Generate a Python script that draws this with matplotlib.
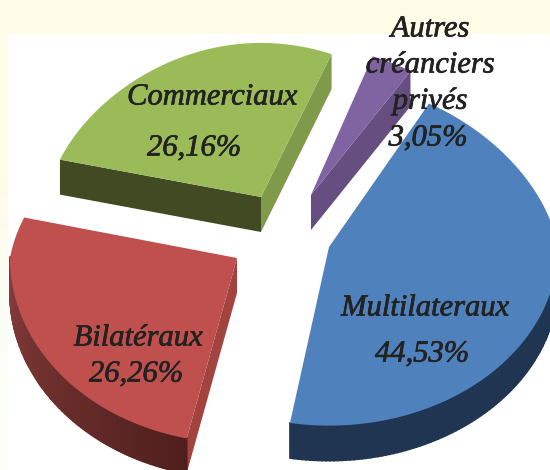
"""3D exploded pie of debt by creditor type, drawn in pixel-like coordinates."""

from __future__ import annotations

import matplotlib

matplotlib.use("Agg")

import matplotlib.patheffects as pe
import matplotlib.pyplot as plt
import numpy as np
from matplotlib.colors import to_rgb
from matplotlib.patches import Rectangle

# clockwise from the start angle
labels = ["Multilateraux", "Bilatéraux", "Commerciaux", "Autres\ncréanciers\nprivés"]
shares = [44.53, 26.26, 26.16, 3.05]
share_text = ["44,53%", "26,26%", "26,16%", "3,05%"]

TOP_COLORS = ["#4f81bd", "#c0504d", "#9bbb59", "#8064a2"]
ARC_COLORS = [("#1f3552", "#1f3552"), ("#8f4240", "#4f1f1d")]
# (which end of the slice, colour) for each flat wall that faces the viewer
WALLS = [
    [],
    [(0, "#a34340")],
    [(0, "#414a22"), (-1, "#7f9a48")],
    [(-1, "#664f80")],
]

START_ANGLE = 60.5
# the perspective of the source picture bends the slice boundaries a little
ANGLE_NUDGE = [(0, 0), (-3, 0), (0.3, -3.5), (-1.5, -3.5)]
CENTER = (282, 234)
EXPLODE_XY = [(47, 13), (-45, 24), (-21, -37), (29, -39)]
RADII = [229, 227, 214, 205]
SQUASH_BACK = 0.72
SQUASH_FRONT = [0.78, 0.815, 0.80, 0.80]
BACK_NARROWING = 0.13
DEPTH = 35
DRAW_ORDER = [3, 2, 0, 1]

# centre of the name lines, then the share
LABEL_XY = [(425, 308), (138, 338), (212, 97), (430, 65)]
SHARE_XY = [(422, 354), (136, 374), (194, 148), (428, 138)]
LINE_GAP = 36


def outline(apex, radius, front, start, stop, n=160):
    angles = np.radians(np.linspace(start, stop, n))
    sines = np.sin(angles)
    xs = radius * np.cos(angles) * (1 - BACK_NARROWING * np.clip(sines, 0, None))
    ys = radius * sines * np.where(sines > 0, SQUASH_BACK, front)
    return apex[0] + xs, apex[1] - ys


def draw_slice(ax, i, start, stop):
    apex = (CENTER[0] + EXPLODE_XY[i][0], CENTER[1] + EXPLODE_XY[i][1])
    xs, ys = outline(apex, RADII[i], SQUASH_FRONT[i], start, stop)

    for end, color in WALLS[i]:
        ax.fill(
            [apex[0], xs[end], xs[end], apex[0]],
            [apex[1], ys[end], ys[end] + DEPTH, apex[1] + DEPTH],
            color=color,
            lw=0,
        )

    # outer wall, only on the front half
    if i < len(ARC_COLORS):
        first = np.array(to_rgb(ARC_COLORS[i][1]))
        last = np.array(to_rgb(ARC_COLORS[i][0]))
        for k in range(len(xs) - 1):
            if ys[k] < apex[1] and ys[k + 1] < apex[1]:
                continue
            ax.fill(
                [xs[k], xs[k + 1], xs[k + 1], xs[k]],
                [ys[k], ys[k + 1], ys[k + 1] + DEPTH, ys[k] + DEPTH],
                color=first + (last - first) * k / (len(xs) - 2),
                lw=1.2,
            )

    ax.fill(np.r_[apex[0], xs], np.r_[apex[1], ys], color=TOP_COLORS[i], lw=0)


def draw_background(ax):
    band = np.array([to_rgb("#fffce8"), to_rgb("#fffce8"), to_rgb("#fcfdf3"), to_rgb("#fbfdf9")])
    ax.imshow(band[:, None, :], extent=(0, 550, 470, 0), aspect="auto", interpolation="bilinear", zorder=0)
    ax.add_patch(Rectangle((8, 34), 542, 436, color="white", lw=0, zorder=0.5))


def draw_labels(ax):
    style = dict(
        family="Liberation Serif",
        style="italic",
        fontsize=22,
        color="#222222",
        ha="center",
        va="center",
        zorder=5,
        path_effects=[pe.withStroke(linewidth=0.5, foreground="#222222")],
    )
    for i, name in enumerate(labels):
        lines = name.split("\n")
        offset = (len(lines) - 1) / 2
        for j, line in enumerate(lines):
            ax.text(LABEL_XY[i][0], LABEL_XY[i][1] + (j - offset) * LINE_GAP, line, **style)
        ax.text(SHARE_XY[i][0], SHARE_XY[i][1], share_text[i], **style)


def main() -> None:
    fig = plt.figure(figsize=(5.5, 4.7), dpi=100)
    ax = fig.add_axes([0, 0, 1, 1])
    ax.set_xlim(0, 550)
    ax.set_ylim(470, 0)
    ax.axis("off")

    draw_background(ax)

    sweep = np.array(shares) / sum(shares) * 360
    stops = START_ANGLE - np.cumsum(sweep)
    starts = stops + sweep
    for i in DRAW_ORDER:
        draw_slice(ax, i, starts[i] + ANGLE_NUDGE[i][0], stops[i] + ANGLE_NUDGE[i][1])

    ax.set_xlim(0, 550)
    ax.set_ylim(470, 0)
    draw_labels(ax)
    fig.savefig("out.png", dpi=100)
    plt.close(fig)


if __name__ == "__main__":
    main()
